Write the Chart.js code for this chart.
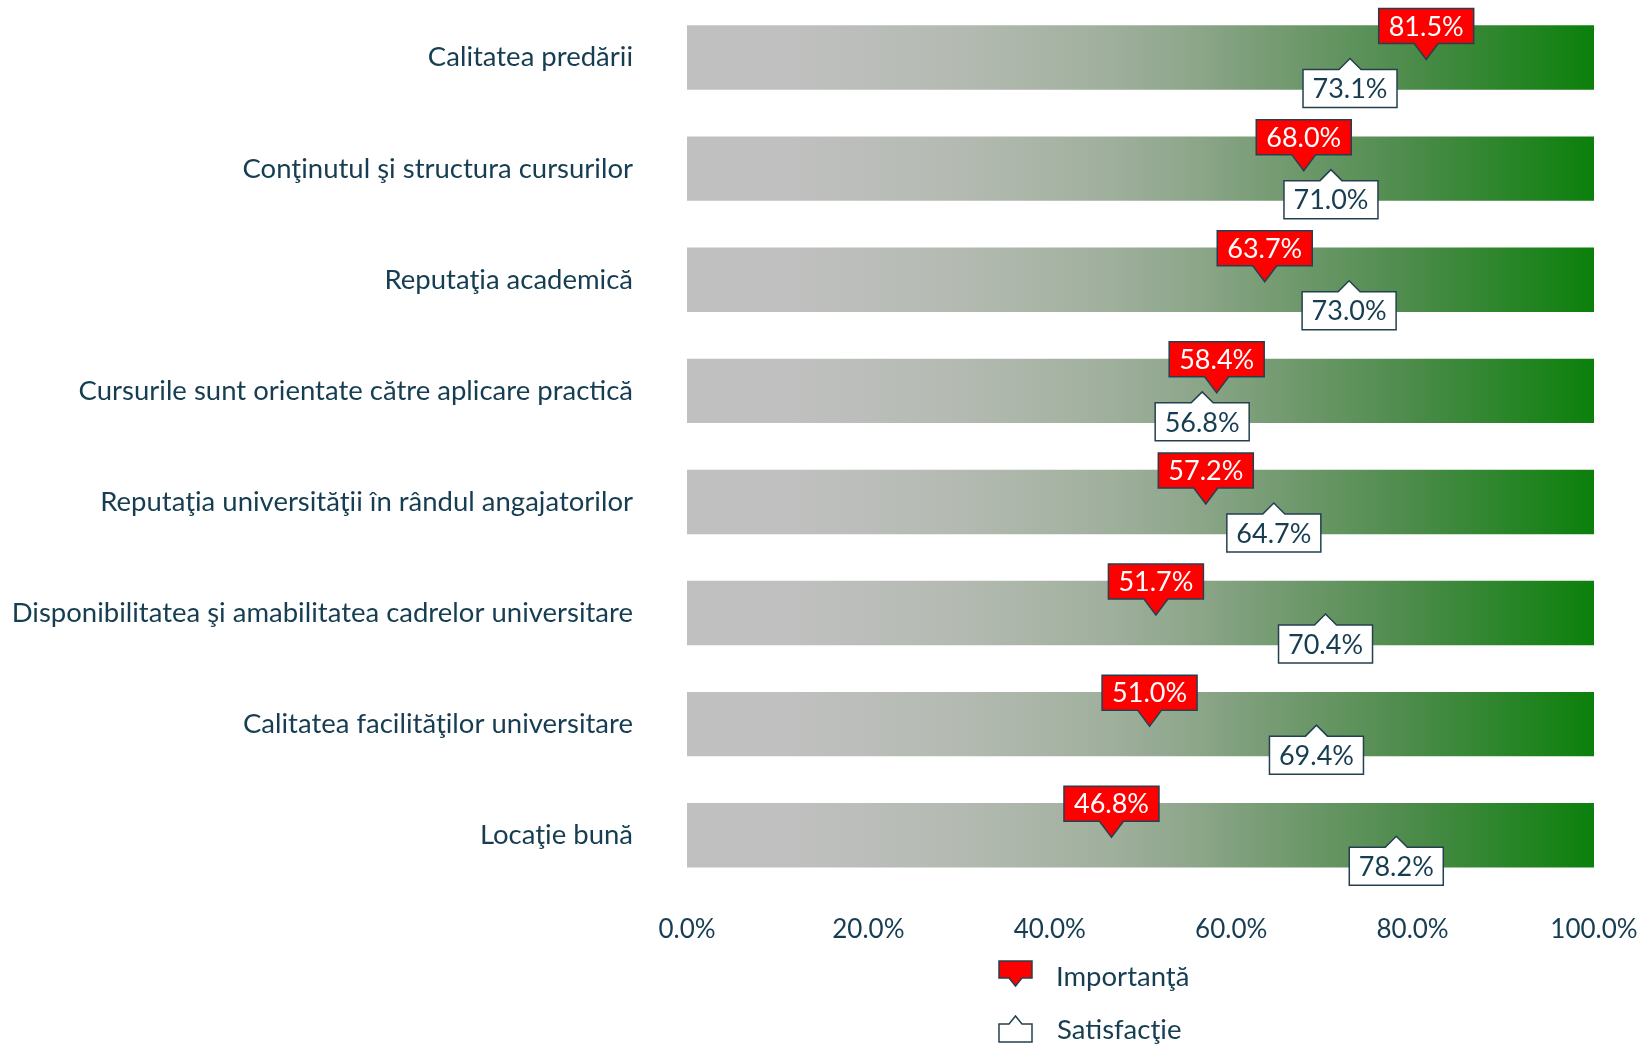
<!DOCTYPE html>
<html>
<head>
<meta charset="utf-8">
<script src="https://cdn.jsdelivr.net/npm/chart.js@4.4.0/dist/chart.umd.min.js"></script>
<style>
    html, body { margin: 0; padding: 0; background: #ffffff; }
    #wrap { width: 1641px; height: 1044px; position: relative; }
</style>
</head>
<body>
<div id="wrap"><canvas id="main-chart"></canvas></div>
<script>
const categories = [
    'Calitatea predării',
    'Conţinutul şi structura cursurilor',
    'Reputaţia academică',
    'Cursurile sunt orientate către aplicare practică',
    'Reputaţia universităţii în rândul angajatorilor',
    'Disponibilitatea şi amabilitatea cadrelor universitare',
    'Calitatea facilităţilor universitare',
    'Locaţie bună',
];

const importanta = [81.5, 68.0, 63.7, 58.4, 57.2, 51.7, 51.0, 46.8];
const satisfactie = [73.1, 71.0, 73.0, 56.8, 64.7, 70.4, 69.4, 78.2];
const scaleTotal = [100, 100, 100, 100, 100, 100, 100, 100];
const xTicks = [0, 20, 40, 60, 80, 100];

const seriesNames = ['Importanţă', 'Satisfacţie'];

const TEXT = '#163D51';
const BORDER = '#24404F';
const FONT = 'Lato, "Open Sans", sans-serif';

function barGradient(chart) {
    const area = chart.chartArea;
    if (!area) return '#C0C0C0';
    const x = chart.scales.x;
    const g = chart.ctx.createLinearGradient(x.getPixelForValue(0), 0, x.getPixelForValue(100), 0);
    g.addColorStop(0, '#C0C0C0');
    g.addColorStop(0.12, '#BFC0BF');
    g.addColorStop(0.3, '#B4BAB2');
    g.addColorStop(0.45, '#A2B19F');
    g.addColorStop(0.55, '#8FA78C');
    g.addColorStop(0.65, '#759B72');
    g.addColorStop(0.8, '#4C8B4A');
    g.addColorStop(1, '#0B800B');
    return g;
}

function calloutDown(ctx, x, y, text) {
    const w = 95, half = w / 2;
    const top = y - 49, base = y - 14, tip = y + 2;
    ctx.beginPath();
    ctx.moveTo(x - half, top);
    ctx.lineTo(x + half, top);
    ctx.lineTo(x + half, base);
    ctx.lineTo(x + 12, base);
    ctx.lineTo(x, tip);
    ctx.lineTo(x - 12, base);
    ctx.lineTo(x - half, base);
    ctx.closePath();
    ctx.fillStyle = '#FF0000';
    ctx.fill();
    ctx.lineWidth = 1.5;
    ctx.strokeStyle = BORDER;
    ctx.stroke();
    ctx.fillStyle = '#FFFFFF';
    ctx.fillText(text, x, (top + base) / 2 + 1);
}

function calloutUp(ctx, x, y, text) {
    const w = 94, half = w / 2;
    const tip = y + 1, base = y + 12, bottom = y + 50;
    ctx.beginPath();
    ctx.moveTo(x - half, base);
    ctx.lineTo(x - 11, base);
    ctx.lineTo(x, tip);
    ctx.lineTo(x + 11, base);
    ctx.lineTo(x + half, base);
    ctx.lineTo(x + half, bottom);
    ctx.lineTo(x - half, bottom);
    ctx.closePath();
    ctx.fillStyle = '#FFFFFF';
    ctx.fill();
    ctx.lineWidth = 1.5;
    ctx.strokeStyle = BORDER;
    ctx.stroke();
    ctx.fillStyle = TEXT;
    ctx.fillText(text, x, (base + bottom) / 2 + 1);
}

const calloutPlugin = {
    id: 'callouts',
    afterDatasetsDraw(chart) {
        const ctx = chart.ctx;
        ctx.save();
        ctx.font = '27px ' + FONT;
        ctx.textAlign = 'center';
        ctx.textBaseline = 'middle';
        chart.getDatasetMeta(1).data.forEach((el, i) => {
            calloutDown(ctx, el.x, el.y, importanta[i].toFixed(1) + '%');
        });
        chart.getDatasetMeta(2).data.forEach((el, i) => {
            calloutUp(ctx, el.x, el.y, satisfactie[i].toFixed(1) + '%');
        });
        ctx.restore();
    },
    afterDraw(chart) {
        // legend, stacked under the axis
        const ctx = chart.ctx;
        ctx.save();
        ctx.lineWidth = 1.5;
        ctx.strokeStyle = BORDER;

        // Importanta icon
        ctx.beginPath();
        ctx.moveTo(999, 961);
        ctx.lineTo(1032, 961);
        ctx.lineTo(1032, 978);
        ctx.lineTo(1022, 978);
        ctx.lineTo(1015.5, 986);
        ctx.lineTo(1009, 978);
        ctx.lineTo(999, 978);
        ctx.closePath();
        ctx.fillStyle = '#FF0000';
        ctx.fill();
        ctx.stroke();

        // Satisfactie icon
        ctx.beginPath();
        ctx.moveTo(999, 1024);
        ctx.lineTo(1009, 1024);
        ctx.lineTo(1015.5, 1016);
        ctx.lineTo(1022, 1024);
        ctx.lineTo(1032, 1024);
        ctx.lineTo(1032, 1042);
        ctx.lineTo(999, 1042);
        ctx.closePath();
        ctx.fillStyle = '#FFFFFF';
        ctx.fill();
        ctx.stroke();

        ctx.font = '27.5px ' + FONT;
        ctx.fillStyle = TEXT;
        ctx.textAlign = 'left';
        ctx.textBaseline = 'middle';
        ctx.fillText(seriesNames[0], 1056, 977);
        ctx.fillText(seriesNames[1], 1057, 1030);
        ctx.restore();
    }
};

const config = {
    type: 'bar',
    data: {
        labels: categories,
        datasets: [
            {
                type: 'bar',
                label: 'scala',
                data: scaleTotal,
                indexAxis: 'y',
                backgroundColor: (c) => barGradient(c.chart),
                borderWidth: 0,
                barPercentage: 0.58,
                categoryPercentage: 1,
                order: 3,
            },
            {
                type: 'line',
                label: seriesNames[0],
                data: importanta,
                indexAxis: 'y',
                showLine: false,
                pointRadius: 0,
                order: 1,
            },
            {
                type: 'line',
                label: seriesNames[1],
                data: satisfactie,
                indexAxis: 'y',
                showLine: false,
                pointRadius: 0,
                order: 2,
            },
        ]
    },
    options: {
        indexAxis: 'y',
        responsive: true,
        maintainAspectRatio: false,
        animation: false,
        events: [],
        layout: {
            padding: { left: 10, right: 47, top: 2, bottom: 84 }
        },
        plugins: {
            legend: { display: false },
            tooltip: { enabled: false },
        },
        scales: {
            x: {
                min: 0,
                max: 100,
                grid: { display: false },
                border: { display: false },
                afterBuildTicks: (scale) => {
                    scale.ticks = xTicks.map(v => ({ value: v }));
                },
                afterFit: (scale) => {
                    scale.paddingLeft = 0;
                    scale.paddingRight = 0;
                },
                ticks: {
                    padding: 15,
                    color: TEXT,
                    font: { family: FONT, size: 26 },
                    maxRotation: 0,
                    callback: (v) => Number(v).toFixed(1) + '%',
                },
            },
            y: {
                grid: { display: false },
                border: { display: false },
                afterFit: (scale) => {
                    scale.width = 677;
                    scale.paddingTop = 0;
                    scale.paddingBottom = 0;
                },
                ticks: {
                    padding: 46,
                    color: TEXT,
                    font: { family: FONT, size: 27.5 },
                },
            },
        },
    },
    plugins: [calloutPlugin],
};

const myChart = new Chart(document.getElementById('main-chart'), config);
</script>
</body>
</html>
